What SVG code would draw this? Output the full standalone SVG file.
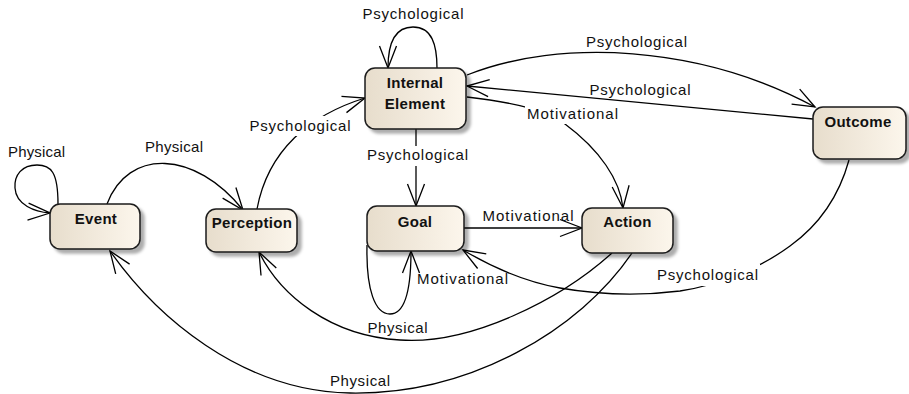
<svg xmlns="http://www.w3.org/2000/svg" width="909" height="394" viewBox="0 0 909 394">
  <defs>
    <linearGradient id="stateFill" x1="0" y1="0" x2="1" y2="0">
      <stop offset="0" stop-color="#e7ddcc"/>
      <stop offset="1" stop-color="#fcf6ec"/>
    </linearGradient>
    <filter id="drop" x="-10%" y="-10%" width="130%" height="140%">
      <feDropShadow dx="4" dy="4" stdDeviation="1.4" flood-color="#000" flood-opacity="0.32"/>
    </filter>
    <marker id="open" markerUnits="userSpaceOnUse" markerWidth="30" markerHeight="30" orient="auto" overflow="visible">
      <path d="M-22,-8.5 L0,0 L-22,8.5" fill="none" stroke="#000" stroke-width="1.3"/>
    </marker>
    <style>
      .state rect { fill: url(#stateFill); stroke: #1a1a1a; stroke-width: 1.5; filter: url(#drop); }
      .state text { font-family: "Liberation Sans", Arial, sans-serif; font-weight: bold; font-size: 15px; text-anchor: middle; fill: #111; letter-spacing: 0.3px; }
      .edges path { fill: none; stroke: #000; stroke-width: 1.3; marker-end: url(#open); }
      .labels text { font-family: "Liberation Sans", Arial, sans-serif; font-size: 15px; text-anchor: middle; fill: #111; }
      .labels rect { fill: #fff; stroke: none; }
    </style>
  </defs>

  <rect width="909" height="394" fill="#fff"/>

  <!-- transitions -->
  <g id="edges" class="edges">
    <!-- Event self loop -->
    <path d="M58,204 C58,172 51,165 37,165 C22,165 14,175 15,188 C16,205 35,212 50,213"/>
    <!-- Event -> Perception -->
    <path d="M107,204 C128,148 195,150 243,210"/>
    <!-- Perception -> Internal Element -->
    <path d="M257,209 C268,150 310,115 365,98"/>
    <!-- Internal Element self loop -->
    <path d="M437,68 C437,45 432,27 413,27 C394,27 388,45 388,68"/>
    <!-- Internal Element -> Outcome -->
    <path d="M467,75 C560,38 700,45 815,107"/>
    <!-- Outcome -> Internal Element -->
    <path d="M813,119 L467,86"/>
    <!-- Internal Element -> Action -->
    <path d="M467,97 C520,103 550,112 565,124 C600,150 620,180 623,208"/>
    <!-- Internal Element -> Goal -->
    <path d="M416,129 L416,206"/>
    <!-- Goal -> Action -->
    <path d="M464,228 L582,228"/>
    <!-- Goal self loop -->
    <path d="M367,245 C366,290 375,314 390,314 C405,314 411,290 411,251"/>
    <!-- Outcome -> Goal -->
    <path d="M849,160 C838,200 815,228 790,246 C760,268 720,285 680,291 C640,296 600,295 560,288 C520,281 485,263 463,250"/>
    <!-- Action -> Perception -->
    <path d="M612,253 C560,300 470,345 400,340 C330,336 280,295 259,252"/>
    <!-- Action -> Event -->
    <path d="M632,253 C580,330 470,395 350,393 C240,391 155,315 110,251"/>
  </g>

  <!-- transition labels -->
  <g id="edge-labels" class="labels">
    <rect x="248" y="116" width="104" height="20"/>
    <rect x="365" y="146" width="105" height="20"/>
    <rect x="525" y="103" width="95" height="21"/>
    <rect x="655" y="264" width="105" height="22"/>
    <text x="36.5" y="157" textLength="57">Physical</text>
    <text x="174" y="152" textLength="58">Physical</text>
    <text x="300" y="131" textLength="101">Psychological</text>
    <text x="413" y="19" textLength="101">Psychological</text>
    <text x="636.5" y="47" textLength="101">Psychological</text>
    <text x="640" y="95" textLength="101">Psychological</text>
    <text x="572.5" y="119" textLength="91">Motivational</text>
    <text x="417.5" y="160" textLength="101">Psychological</text>
    <text x="528" y="221" textLength="91">Motivational</text>
    <text x="462.5" y="284" textLength="91">Motivational</text>
    <text x="707.5" y="280" textLength="101">Psychological</text>
    <text x="397.5" y="333" textLength="60">Physical</text>
    <text x="360" y="386" textLength="60">Physical</text>
  </g>

  <!-- states -->
  <g id="event" class="state">
    <rect x="50" y="204" width="90" height="45" rx="10"/>
    <text x="96" y="224">Event</text>
  </g>
  <g id="perception" class="state">
    <rect x="206" y="209" width="91" height="43" rx="10"/>
    <text x="252" y="228">Perception</text>
  </g>
  <g id="internal-element" class="state">
    <rect x="365" y="68" width="101" height="61" rx="10"/>
    <text x="415" y="88">Internal</text>
    <text x="415" y="109">Element</text>
  </g>
  <g id="goal" class="state">
    <rect x="367" y="206" width="97" height="45" rx="10"/>
    <text x="415" y="226.5">Goal</text>
  </g>
  <g id="action" class="state">
    <rect x="582" y="208" width="91" height="45" rx="10"/>
    <text x="627.5" y="227">Action</text>
  </g>
  <g id="outcome" class="state">
    <rect x="813" y="107" width="93" height="52" rx="10"/>
    <text x="858" y="127">Outcome</text>
  </g>
</svg>
